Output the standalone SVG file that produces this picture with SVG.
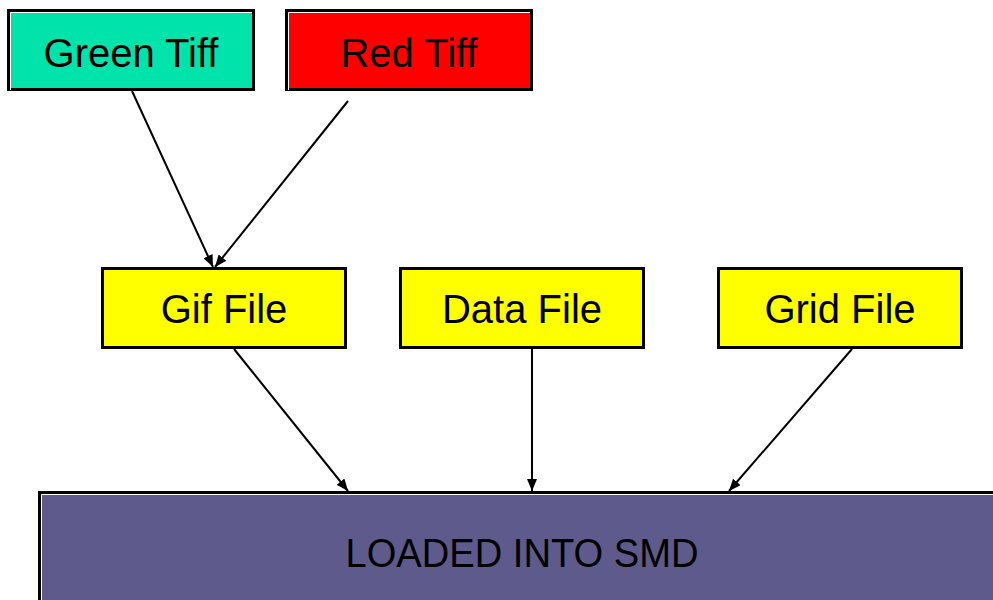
<svg xmlns="http://www.w3.org/2000/svg" width="993" height="600" viewBox="0 0 993 600">
  <style>
    .box { stroke: #000; stroke-width: 3; }
    .hl { stroke: #fff; stroke-width: 1; fill: none; }
    .lbl { font-family: "Liberation Sans", Arial, sans-serif; font-size: 40px; fill: #000; text-anchor: middle; }
    .edge { stroke: #000; stroke-width: 2; fill: none; marker-end: url(#arrow); }
  </style>
  <defs>
    <marker id="arrow" viewBox="0 0 12 10" refX="12" refY="5" markerWidth="12" markerHeight="10" markerUnits="userSpaceOnUse" orient="auto">
      <path d="M0,0 L12,5 L0,10 Z" fill="#000"/>
    </marker>
  </defs>
  <rect width="993" height="600" fill="#fff"/>

  <g id="green-tiff">
    <rect class="box" x="8.5" y="10.5" width="245" height="79" fill="#00e3aa"/>
    <path class="hl" d="M10.5,90 V12.5 H252"/>
    <text class="lbl" x="131" y="67">Green Tiff</text>
  </g>

  <g id="red-tiff">
    <rect class="box" x="286.5" y="10.5" width="245" height="79" fill="#ff0000"/>
    <path class="hl" d="M288.5,90 V12.5 H530"/>
    <text class="lbl" x="409" y="67">Red Tiff</text>
  </g>

  <g id="gif-file">
    <rect class="box" x="102.5" y="268.5" width="243" height="79" fill="#ffff00"/>
    <text class="lbl" x="224" y="323">Gif File</text>
  </g>

  <g id="data-file">
    <rect class="box" x="400.5" y="268.5" width="243" height="79" fill="#ffff00"/>
    <text class="lbl" x="522" y="323">Data File</text>
  </g>

  <g id="grid-file">
    <rect class="box" x="718.5" y="268.5" width="243" height="79" fill="#ffff00"/>
    <text class="lbl" x="840" y="323">Grid File</text>
  </g>

  <g id="loaded-into-smd">
    <rect class="box" x="39.5" y="492.5" width="960" height="120" fill="#5e5a8c"/>
    <path class="hl" d="M41.5,600 V494.5 H993"/>
    <text class="lbl" x="522" y="567" textLength="353" lengthAdjust="spacingAndGlyphs">LOADED INTO SMD</text>
  </g>

  <g id="connectors">
    <line class="edge" x1="132" y1="91" x2="213" y2="267"/>
    <line class="edge" x1="348" y1="101" x2="215" y2="267"/>
    <line class="edge" x1="234" y1="349" x2="348" y2="491"/>
    <line class="edge" x1="532" y1="349" x2="532" y2="491"/>
    <line class="edge" x1="852" y1="349" x2="729" y2="491"/>
  </g>
</svg>
